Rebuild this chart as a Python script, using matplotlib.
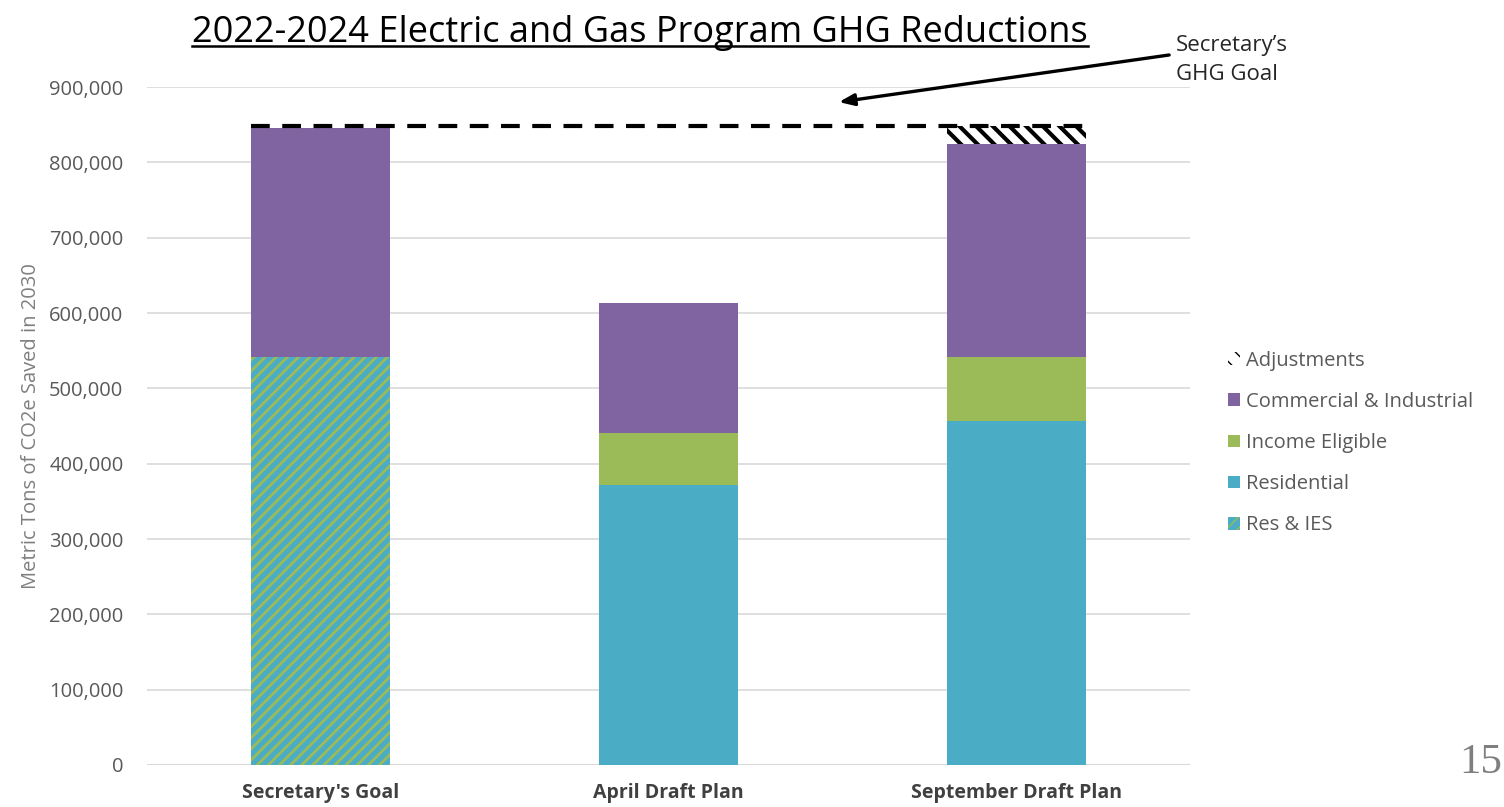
import matplotlib
matplotlib.use("Agg")
import matplotlib.pyplot as plt
from matplotlib.lines import Line2D
from matplotlib.ticker import FuncFormatter

# ---- data (metric tons CO2e saved in 2030) ----
categories = ["Secretary's Goal", "April Draft Plan", "September Draft Plan"]
res_ies = [542000, 0, 0]
residential = [0, 372000, 457000]
income_eligible = [0, 69000, 85000]
commercial_industrial = [304000, 172000, 283000]
adjustments = [0, 0, 23000]
ghg_goal = 848000
y_ticks = [0, 100000, 200000, 300000, 400000, 500000, 600000, 700000, 800000, 900000]

# ---- style ----
C_PURPLE = "#8064A2"
C_GREEN = "#9BBB59"
C_BLUE = "#4BACC6"
TXT = "#595959"
FONT = ["Open Sans", "DejaVu Sans"]
plt.rcParams["font.family"] = FONT

W, H = 1504, 807
fig = plt.figure(figsize=(W / 100, H / 100), dpi=100)
fig.patch.set_facecolor("white")
ax = fig.add_axes([147 / W, 1 - 765 / H, (1190 - 147) / W, (765 - 87) / H])

x = list(range(len(categories)))
bw = 0.4


def stack_bottom(*series):
    return [sum(v) for v in zip(*series)]


def set_hatch_lw(bars, lw):
    for p in bars:
        if hasattr(p, "set_hatch_linewidth"):
            p.set_hatch_linewidth(lw)
        else:
            p._hatch_linewidth = lw


b_resies = ax.bar(x, res_ies, bw, color=C_BLUE, edgecolor=C_GREEN,
                  hatch="///", linewidth=0, label="Res & IES", zorder=3)
set_hatch_lw(b_resies, 2.0)
b_res = ax.bar(x, residential, bw, bottom=res_ies, color=C_BLUE,
               linewidth=0, label="Residential", zorder=3)
bot = stack_bottom(res_ies, residential)
b_ie = ax.bar(x, income_eligible, bw, bottom=bot, color=C_GREEN,
              linewidth=0, label="Income Eligible", zorder=3)
bot = stack_bottom(res_ies, residential, income_eligible)
b_ci = ax.bar(x, commercial_industrial, bw, bottom=bot, color=C_PURPLE,
              linewidth=0, label="Commercial & Industrial", zorder=3)
bot = stack_bottom(res_ies, residential, income_eligible, commercial_industrial)
b_adj = ax.bar(x, adjustments, bw, bottom=bot, color="white", edgecolor="black",
               hatch="\\\\", linewidth=0, label="Adjustments", zorder=3)
set_hatch_lw(b_adj, 3.0)

# goal line across the three bars
ax.plot([x[0] - bw / 2, x[-1] + bw / 2], [ghg_goal, ghg_goal], color="black",
        lw=3.0, linestyle=(0, (4.5, 3.0)), zorder=5, dash_capstyle="butt")

# axes styling
ax.set_xlim(-0.5, len(categories) - 0.5)
ax.set_ylim(0, 900000)
ax.set_yticks(y_ticks)
ax.yaxis.set_major_formatter(FuncFormatter(lambda v, p: f"{int(v):,}"))
ax.grid(axis="y", color="#D9D9D9", lw=1.2, zorder=0)
ax.set_axisbelow(True)
for s in ax.spines.values():
    s.set_visible(False)
ax.axhline(0, color="#D9D9D9", lw=1.5, zorder=1)
ax.tick_params(axis="y", length=0, pad=17, labelsize=14.5, labelcolor=TXT)
ax.set_xticks(x)
ax.set_xticklabels(categories, fontsize=14, fontweight="bold", color="#404040")
ax.tick_params(axis="x", length=0, pad=13)
ax.set_ylabel("Metric Tons of CO2e Saved in 2030", fontsize=14.5, color="#7F7F7F",
              labelpad=6)

# legend
handles = [b_adj, b_ci, b_ie, b_res, b_resies]
leg = fig.legend(handles, [h.get_label() for h in handles],
                 loc="center left", bbox_to_anchor=(1228 / W, 1 - 443 / H),
                 frameon=False, fontsize=14.5, labelcolor=TXT,
                 handlelength=0.6, handleheight=0.6, handletextpad=0.3,
                 labelspacing=1.05, borderpad=0, borderaxespad=0)

# annotation arrow and label
ax.annotate("", xy=(1.49, 880000), xytext=(2.44, 942500),
            arrowprops=dict(arrowstyle="-|>,head_length=0.9,head_width=0.35",
                            color="black", lw=2.4, shrinkA=0, shrinkB=0),
            annotation_clip=False, zorder=6)
fig.text(1176 / W, 1 - 60 / H, "Secretary\u2019s\nGHG Goal", fontsize=16,
         color="#262626", ha="left", va="center", linespacing=1.5)

# title with underline
title = fig.text(640 / W, 1 - 42 / H, "2022-2024 Electric and Gas Program GHG Reductions",
                 fontsize=26, ha="center", va="baseline", color="black")
fig.canvas.draw()
bb = title.get_window_extent()
uy = H - 46
fig.add_artist(Line2D([bb.x0 / W, bb.x1 / W], [uy / H, uy / H], color="black",
                      lw=1.8, transform=fig.transFigure))

# page number
fig.text(1502 / W, 1 - 763 / H, "15", fontsize=31, color="#7F7F7F",
         family=["Liberation Serif", "DejaVu Serif"], ha="right", va="center")

fig.savefig("out.png", dpi=100)
